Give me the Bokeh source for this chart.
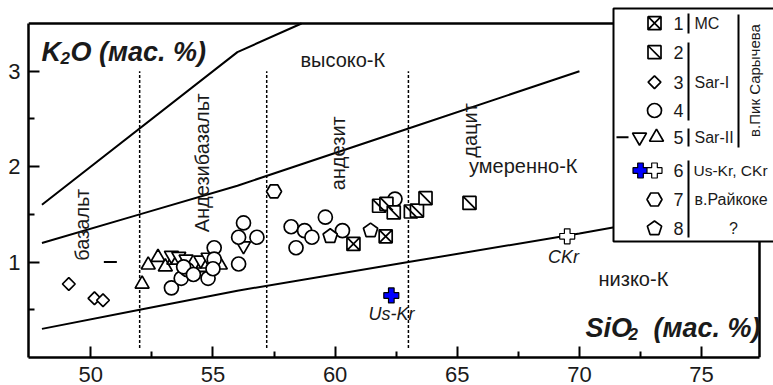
import numpy as np
from bokeh.plotting import figure
from bokeh.models import Label, FixedTicker, Range1d
from bokeh.embed import file_html
from bokeh.resources import INLINE

# ---------------- data ----------------
x_ticks = [50, 55, 60, 65, 70, 75]
x_minor = [52.5, 57.5, 62.5, 67.5, 72.5]
y_ticks = [1, 2, 3]
y_minor = [0.5, 1.5, 2.5]

# classification boundaries (SiO2, K2O)
lowK_x = [48, 52, 56, 63, 70, 72]
lowK_y = [0.3, 0.5, 0.7, 1.0, 1.3, 1.39]
medK_x = [48, 52, 56, 63, 70]
medK_y = [1.2, 1.5, 1.8, 2.4, 3.0]
highK_x = [48, 56, 63]
highK_y = [1.6, 3.2, 4.0]
div_x = [52, 57.2, 63]
div_top = 3.0
div_bottom = 0.1

# 1 MC
s1_x = [60.75, 62.07]
s1_y = [1.19, 1.27]
# 2 Sar-I (square with diagonal)
s2_x = [61.8, 62.1, 62.4, 63.1, 63.35, 63.7, 65.5]
s2_y = [1.59, 1.61, 1.52, 1.53, 1.54, 1.67, 1.62]
# 3 Sar-I diamonds
s3_x = [49.1, 50.15, 50.5]
s3_y = [0.77, 0.62, 0.60]
# 4 Sar-I circles
s4_x = [53.3, 53.7, 53.95, 53.8, 54.2, 54.8, 55.05, 55.05, 55.0, 56.05, 56.05,
        56.25, 56.8, 58.2, 58.75, 59.05, 58.4, 59.6, 60.3, 62.45]
s4_y = [0.73, 0.83, 0.92, 0.95, 0.87, 0.83, 1.15, 1.03, 0.93, 0.98, 1.26,
        1.41, 1.26, 1.37, 1.33, 1.26, 1.15, 1.47, 1.33, 1.66]
# 5 Sar-II
s5_tri_x = [52.1, 52.35, 52.75, 53.05, 53.4, 54.6, 55.3]
s5_tri_y = [0.77, 0.97, 1.05, 0.95, 1.02, 0.98, 0.97]
s5_inv_x = [53.3, 53.6, 53.9, 54.5, 54.8, 56.25]
s5_inv_y = [1.07, 1.06, 1.03, 1.02, 1.05, 1.17]
s5_dash_x = [50.8, 54.5]
s5_dash_y = [1.0, 0.9]
# 6 Us-Kr, CKr
uskr_x, uskr_y = [62.3], [0.65]
ckr_x, ckr_y = [69.5], [1.27]
# 7 Raikoke
s7_x, s7_y = [57.5], [1.74]
# 8 ?
s8_x = [59.8, 61.45]
s8_y = [1.27, 1.33]

# ---------------- layout ----------------
FONT = "Liberation Sans"
TXT = "#1a1a1a"
X0, XR = 47.45, 77.37           # frame box in data units
FL, FR, FT, FB = 28, 759, 23, 357  # frame box in pixels
PXX = (XR - X0) / (FR - FL)
PYY = 3.5 / (FB - FT)
CANVAS_TOP = 5
XE = XR + (773 - FR) * PXX
YT = 3.5 + (FT - CANVAS_TOP) * PYY


def sx(px):
    return X0 + (px - FL) * PXX


def sy(py):
    return (FB - py) * PYY


p = figure(width=773, height=385, x_range=Range1d(X0, XE), y_range=Range1d(0, YT),
           output_backend="svg", toolbar_location=None,
           min_border_left=FL, min_border_right=0, min_border_top=CANVAS_TOP,
           min_border_bottom=385 - FB)
p.outline_line_color = None
p.grid.visible = False
p.background_fill_color = "white"
p.border_fill_color = "white"

for ax, ticks, minor, bnds in ((p.xaxis, x_ticks, x_minor, (X0, XR)),
                               (p.yaxis, y_ticks, y_minor, (0, 3.5))):
    ax.ticker = FixedTicker(ticks=ticks, minor_ticks=minor)
    ax.bounds = bnds
    ax.axis_line_width = 2.5
    ax.axis_line_color = "black"
    ax.major_tick_in = 11
    ax.major_tick_out = 0
    ax.minor_tick_in = 6
    ax.minor_tick_out = 0
    ax.major_tick_line_width = 2
    ax.minor_tick_line_width = 2
    ax.major_tick_line_color = "black"
    ax.minor_tick_line_color = "black"
    ax.major_label_text_font = FONT
    ax.major_label_text_font_size = "22px"
    ax.major_label_text_color = TXT
p.xaxis.major_label_standoff = 9
p.xaxis.major_label_text_line_height = 0.75
p.yaxis.major_label_standoff = 8

# frame top and right edges
p.segment(x0=[X0, XR], y0=[3.5, 0], x1=[XR, XR], y1=[3.5, 3.5], line_color="black", line_width=2.5)

# boundaries
x_top = float(np.interp(3.5, highK_y, highK_x))
hk_x = [v for v in highK_x if v < x_top] + [x_top]
hk_y = [v for v in highK_y if v < 3.5] + [3.5]
for xs, ys in ((lowK_x, lowK_y), (medK_x, medK_y), (hk_x, hk_y)):
    p.line(xs, ys, line_color="black", line_width=2)
p.segment(x0=div_x, y0=[div_bottom] * 3, x1=div_x, y1=[div_top] * 3,
          line_color="black", line_width=1.5, line_dash="3 2")

MK = dict(fill_color="white", line_color="black", line_width=1.7)


def draw_pent(xs, ys, r=7.5):
    ang = np.pi / 2 + np.arange(5) * 2 * np.pi / 5
    pxs = [list(x + r * np.cos(ang) * PXX) for x in xs]
    pys = [list(y + r * np.sin(ang) * PYY) for y in ys]
    p.patches(pxs, pys, **MK)


def draw_sq_diag(xs, ys, s=13):
    p.scatter(xs, ys, marker="square", size=s, **MK)
    p.scatter(xs, ys, marker="dash", size=s * 1.4, angle=-np.pi / 4, line_color="black", line_width=1.7)


# series
p.scatter(s5_dash_x, s5_dash_y, marker="dash", size=13, line_color="black", line_width=2)
p.scatter(s5_tri_x, s5_tri_y, marker="triangle", size=14, **MK)
p.scatter(s5_inv_x, s5_inv_y, marker="inverted_triangle", size=14, **MK)
p.scatter(s3_x, s3_y, marker="square", angle=np.pi / 4, size=9, **MK)
p.scatter(s4_x, s4_y, marker="circle", size=14, **MK)
p.scatter(s7_x, s7_y, marker="hex", size=15, **MK)
draw_pent(s8_x, s8_y)
draw_sq_diag(s2_x, s2_y)
p.scatter(s1_x, s1_y, marker="square_x", size=13, **MK)
p.scatter(uskr_x, uskr_y, marker="plus", size=15, fill_color="#0000ff", line_color="black", line_width=1.2)
p.scatter(ckr_x, ckr_y, marker="plus", size=15, fill_color="white", line_color="black", line_width=1.2)


def lab(text, x, y, size=20, align="left", baseline="middle", angle=0.0, style="normal"):
    p.add_layout(Label(x=x, y=y, text=text, text_font=FONT, text_font_size=f"{size}px",
                       text_align=align, text_baseline=baseline, angle=angle,
                       text_font_style=style, text_color=TXT))


# field labels
lab("базальт", 49.66, 1.39, align="center", angle=np.pi / 2)
lab("Андезибазальт", 54.57, 2.04, align="center", angle=np.pi / 2)
lab("андезит", 60.10, 2.14, align="center", angle=np.pi / 2)
lab("дацит", 65.54, 2.38, align="center", angle=np.pi / 2)
lab("высоко-К", 58.58, 3.12)
lab("умеренно-К", 69.92, 2.01, align="right")
lab("низко-К", 70.78, 0.82)
lab("Us-Kr", 62.31, 0.46, size=18, align="center", style="italic")
lab("CKr", 69.35, 1.05, size=18, align="center", style="italic")

# axis titles
lab("K", sx(41), sy(51), size=27, style="bold italic")
lab("2", sx(60), sy(57), size=17, style="bold italic")
lab("O (мас. %)", sx(70), sy(51), size=27, style="bold italic")
lab("SiO", sx(585), sy(327), size=27, style="bold italic")
lab("2", sx(628), sy(333), size=17, style="bold italic")
lab("(мас. %)", sx(653), sy(327), size=27, style="bold italic")

# ---------------- legend ----------------
p.quad(left=sx(613), right=sx(800), top=sy(8), bottom=sy(241),
       fill_color="white", line_color="black", line_width=2)
rows = [22.7, 51.7, 81.7, 110, 136.7, 170, 199, 228]
LX = 654
p.scatter([sx(LX)], [sy(rows[0])], marker="square_x", size=13, **MK)
draw_sq_diag([sx(LX)], [sy(rows[1])])
p.scatter([sx(LX)], [sy(rows[2])], marker="square", angle=np.pi / 4, size=9, **MK)
p.scatter([sx(LX)], [sy(rows[3])], marker="circle", size=14, **MK)
p.scatter([sx(622)], [sy(rows[4])], marker="dash", size=12, line_color="black", line_width=2)
p.scatter([sx(639)], [sy(rows[4])], marker="inverted_triangle", size=14, **MK)
p.scatter([sx(656)], [sy(rows[4])], marker="triangle", size=14, **MK)
p.scatter([sx(640)], [sy(rows[5])], marker="plus", size=15, fill_color="#0000ff", line_color="black", line_width=1.2)
p.scatter([sx(LX)], [sy(rows[5])], marker="plus", size=15, fill_color="white", line_color="black", line_width=1.2)
p.scatter([sx(LX)], [sy(rows[6])], marker="hex", size=15, **MK)
draw_pent([sx(LX)], [sy(rows[7])])

for i, ry in enumerate(rows):
    lab(str(i + 1), sx(678), sy(ry), size=18, align="center")

p.segment(x0=[sx(688)] * 4 + [sx(738)], x1=[sx(688)] * 4 + [sx(738)],
          y0=[sy(13), sy(42), sy(128), sy(160), sy(14)],
          y1=[sy(33), sy(120), sy(146), sy(237), sy(147)],
          line_color="black", line_width=2)
lab("МС", sx(694), sy(rows[0]), size=16)
lab("Sar-I", sx(694), sy(rows[2]), size=16)
lab("Sar-II", sx(694), sy(rows[4]), size=16)
lab("Us-Kr, CKr", sx(693), sy(rows[5]), size=15.5)
lab("в.Райкоке", sx(694), sy(rows[6]), size=16)
lab("?", sx(733), sy(rows[7]), size=16, align="center")
lab("в.Пик Сарычева", sx(754), sy(80), size=15, align="center", angle=np.pi / 2)

open("out.html", "w").write(file_html(p, INLINE))
